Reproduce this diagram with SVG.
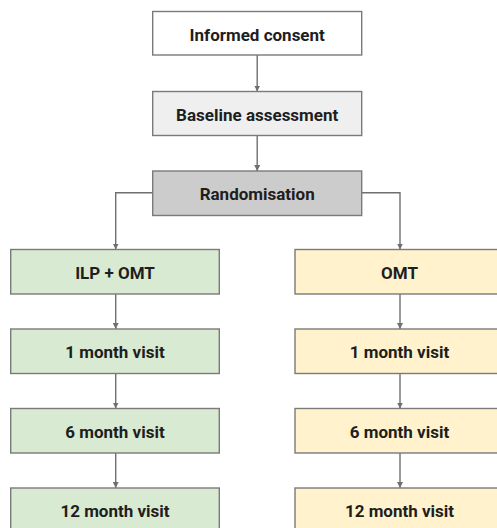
<svg xmlns="http://www.w3.org/2000/svg" width="497" height="528" viewBox="0 0 497 528">
<style>
.box{stroke:#7a7a7a;stroke-width:1.4}
.t{font-family:Roboto,"Liberation Sans",sans-serif;font-weight:bold;font-size:17px;fill:#1e1e1e;text-anchor:middle}
.c{fill:none;stroke:#6f6f6f;stroke-width:1.4}
.w{fill:#ffffff}.g1{fill:#efefef}.g2{fill:#cccccc}.gr{fill:#d9ead3}.ye{fill:#fff2cc}
</style>
<defs>
<marker id="ah" viewBox="0 0 10 10" refX="10" refY="5" markerWidth="6" markerHeight="6" markerUnits="userSpaceOnUse" orient="auto">
<path d="M0,0 L10,5 L0,10 z" fill="#6f6f6f"/>
</marker>
</defs>
<g id="connectors">
<path class="c" d="M257.2,55 V91.5" marker-end="url(#ah)"/>
<path class="c" d="M257.2,135.5 V171" marker-end="url(#ah)"/>
<path class="c" d="M152.7,192.7 H115.7 V249.5" marker-end="url(#ah)"/>
<path class="c" d="M361.7,192.7 H400 V249.5" marker-end="url(#ah)"/>
<path class="c" d="M115.7,294 V329" marker-end="url(#ah)"/>
<path class="c" d="M115.7,373.5 V408.5" marker-end="url(#ah)"/>
<path class="c" d="M115.7,453 V488" marker-end="url(#ah)"/>
<path class="c" d="M400,294 V329" marker-end="url(#ah)"/>
<path class="c" d="M400,373.5 V408.5" marker-end="url(#ah)"/>
<path class="c" d="M400,453 V488" marker-end="url(#ah)"/>
</g>
<g id="consent"><rect class="box w" x="152.7" y="11.5" width="209" height="43.5"/><text class="t" x="257.2" y="40.5">Informed consent</text></g>
<g id="baseline"><rect class="box g1" x="152.7" y="91.5" width="209" height="44"/><text class="t" x="257.2" y="120.5">Baseline assessment</text></g>
<g id="random"><rect class="box g2" x="152.7" y="171" width="209" height="44.5"/><text class="t" x="257.2" y="200">Randomisation</text></g>
<g id="ilp"><rect class="box gr" x="10.7" y="249.5" width="208.6" height="44.5"/><text class="t" x="115" y="278.5">ILP + OMT</text></g>
<g id="ilp1"><rect class="box gr" x="10.7" y="329" width="208.6" height="44.5"/><text class="t" x="115" y="358">1 month visit</text></g>
<g id="ilp6"><rect class="box gr" x="10.7" y="408.5" width="208.6" height="44.5"/><text class="t" x="115" y="437.5">6 month visit</text></g>
<g id="ilp12"><rect class="box gr" x="10.7" y="488" width="208.6" height="44.5"/><text class="t" x="115" y="517">12 month visit</text></g>
<g id="omt"><rect class="box ye" x="295" y="249.5" width="209" height="44.5"/><text class="t" x="399.5" y="278.5">OMT</text></g>
<g id="omt1"><rect class="box ye" x="295" y="329" width="209" height="44.5"/><text class="t" x="399.5" y="358">1 month visit</text></g>
<g id="omt6"><rect class="box ye" x="295" y="408.5" width="209" height="44.5"/><text class="t" x="399.5" y="437.5">6 month visit</text></g>
<g id="omt12"><rect class="box ye" x="295" y="488" width="209" height="44.5"/><text class="t" x="399.5" y="517">12 month visit</text></g>
</svg>
